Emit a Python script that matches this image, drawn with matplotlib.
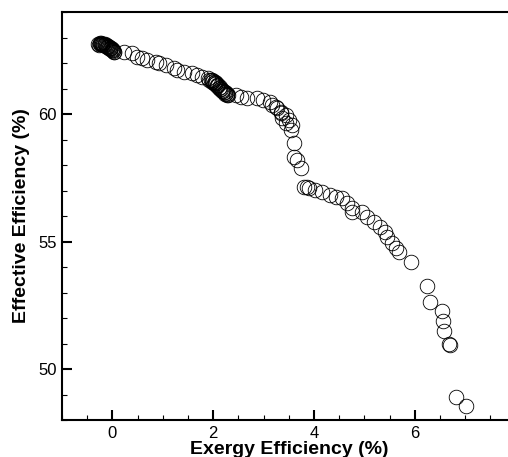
import matplotlib
matplotlib.use("Agg")
import matplotlib.pyplot as plt
from matplotlib.ticker import MultipleLocator

plt.rcParams['font.family'] = ['Liberation Sans', 'DejaVu Sans']

exergy = [
    -0.28, -0.25, -0.22, -0.2, -0.18, -0.15, -0.12, -0.1, -0.08, -0.05, -0.03, 0.0, 0.02, 0.04, -0.06, -0.14,
    -0.27, -0.24, -0.21, -0.17, -0.13, -0.09, -0.07, -0.04, -0.01, 0.01, 0.03, -0.11, -0.19, -0.23,
    0.24, 0.38, 0.48, 0.58, 0.69, 0.87, 0.93, 1.07, 1.23, 1.29, 1.43, 1.57, 1.67, 1.77,
    1.9, 1.95, 2.0, 2.03, 2.06, 2.1, 2.13, 2.16, 2.2, 2.23, 2.26, 2.28, 1.98, 2.08, 2.18,
    1.92, 1.97, 2.01, 2.04, 2.07, 2.11, 2.14, 2.17, 2.21, 2.24, 2.27, 2.3,
    2.46, 2.56, 2.68, 2.86, 2.98, 3.12, 3.17, 3.25, 3.27, 3.35, 3.35, 3.37, 3.45, 3.45,
    3.51, 3.55, 3.57, 3.61, 3.61, 3.67, 3.75,
    3.81, 3.86, 3.91, 4.01, 4.15, 4.31, 4.44, 4.56, 4.66, 4.76, 4.76, 4.96, 5.06,
    5.2, 5.3, 5.4, 5.44, 5.54, 5.63, 5.69, 5.93,
    6.25, 6.31, 6.53, 6.55, 6.57, 6.67, 6.69, 6.81, 7.02,
]
effective = [
    62.75, 62.78, 62.78, 62.76, 62.75, 62.72, 62.7, 62.68, 62.65, 62.6, 62.58, 62.55, 62.5, 62.45, 62.62, 62.74,
    62.72, 62.74, 62.73, 62.7, 62.66, 62.63, 62.6, 62.56, 62.52, 62.48, 62.44, 62.64, 62.71, 62.75,
    62.43, 62.39, 62.24, 62.2, 62.12, 62.04, 62.0, 61.92, 61.8, 61.73, 61.65, 61.61, 61.53, 61.45,
    61.4, 61.35, 61.3, 61.25, 61.2, 61.12, 61.05, 61.0, 60.92, 60.87, 60.82, 60.78, 61.32, 61.15, 60.95,
    61.33, 61.27, 61.22, 61.17, 61.1, 61.03, 60.98, 60.9, 60.85, 60.8, 60.76, 60.74,
    60.75, 60.67, 60.63, 60.63, 60.55, 60.47, 60.35, 60.27, 60.24, 60.08, 60.04, 59.84, 59.96, 59.65,
    59.76, 59.37, 59.57, 58.86, 58.31, 58.2, 57.88,
    57.14, 57.12, 57.1, 57.02, 56.94, 56.82, 56.75, 56.71, 56.51, 56.31, 56.16, 56.16, 55.96,
    55.76, 55.57, 55.37, 55.18, 54.94, 54.75, 54.59, 54.2,
    53.25, 52.63, 52.27, 51.88, 51.49, 50.98, 50.94, 48.9, 48.55,
]
x_ticks = [0, 2, 4, 6]
y_ticks = [50, 55, 60]

W, H = 508, 457
fig = plt.figure(figsize=(W / 100, H / 100), dpi=100)
x0, x1 = 62, 62 + 9 * 50.4
y0, y1 = 420, 12
ax = fig.add_axes([x0 / W, 1 - y0 / H, (x1 - x0) / W, (y0 - y1) / H])

ax.plot(exergy, effective, linestyle='none', marker='o', markersize=10.5,
        markerfacecolor='none', markeredgecolor='black', markeredgewidth=0.6)

ax.set_xlim(-1, 8)
ax.set_ylim(48, 64)
ax.set_xticks(x_ticks)
ax.set_yticks(y_ticks)
ax.xaxis.set_minor_locator(MultipleLocator(0.5))
ax.yaxis.set_minor_locator(MultipleLocator(1))
ax.tick_params(which='major', direction='in', length=7, width=1.5, labelsize=12,
               top=False, right=False, pad=4)
ax.tick_params(which='minor', direction='in', length=3.5, width=0.8, top=False, right=False)
for s in ['left', 'bottom', 'top']:
    ax.spines[s].set_linewidth(1.5)
ax.spines['right'].set_visible(False)

ax.set_xlabel('Exergy Efficiency (%)', fontsize=14, fontweight='bold', labelpad=0)
ax.set_ylabel('Effective Efficiency (%)', fontsize=14, fontweight='bold', labelpad=6)

fig.savefig('out.png', dpi=100)
